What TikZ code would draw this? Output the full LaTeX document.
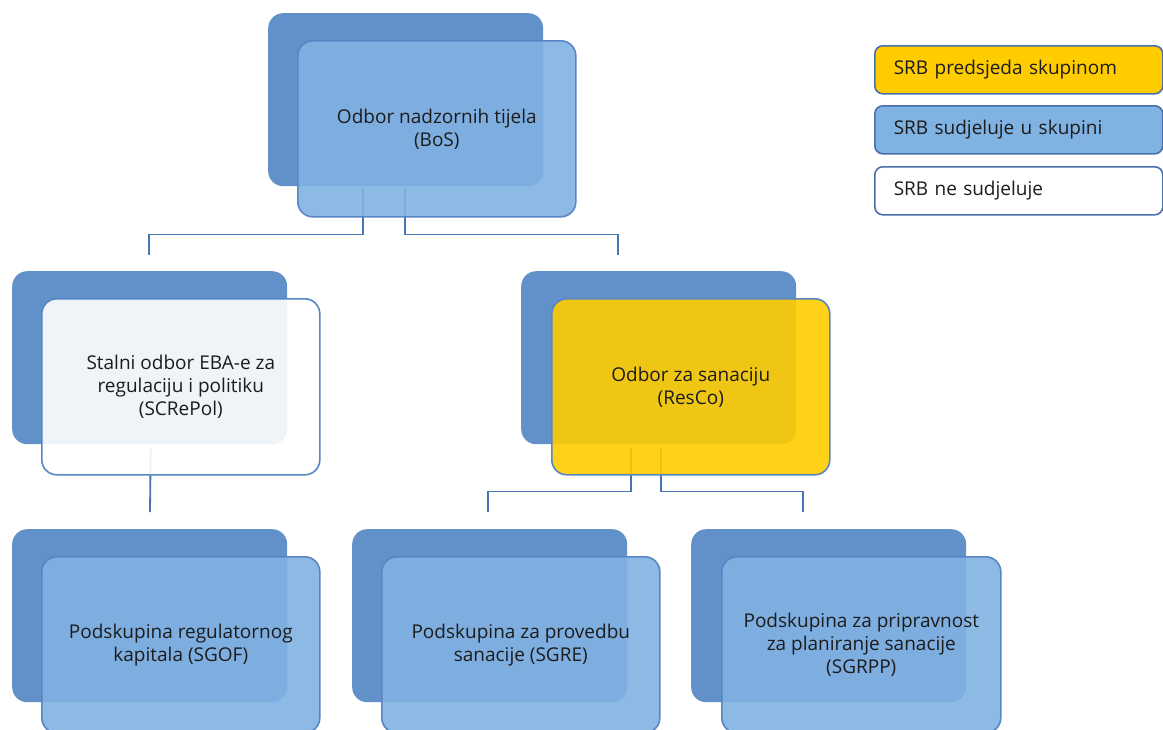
\documentclass[tikz,border=0pt]{standalone}
\usepackage{fontspec}
\setmainfont{Open Sans}
\usetikzlibrary{positioning}
\definecolor{backblue}{RGB}{98,145,201}
\definecolor{frontblue}{RGB}{128,178,226}
\definecolor{chairgold}{RGB}{255,204,0}
\definecolor{edgeblue}{RGB}{88,134,196}
\definecolor{legendedge}{RGB}{72,112,172}
\definecolor{lineblue}{RGB}{74,117,181}
\definecolor{inktext}{RGB}{28,28,28}
\tikzset{
backbox/.style={ % Darker card lying behind each group
anchor=north west,
fill=backblue,
rounded corners=15pt,
inner sep=0pt,
minimum width=275pt,
minimum height=173pt},
frontbox/.style={ % Card in front, carries the name
anchor=north west,
draw=edgeblue,
line width=1.6pt,
fill=frontblue,
fill opacity=0.9,
text opacity=1,
text=inktext,
rounded corners=15pt,
minimum width=278pt,
minimum height=176pt,
align=center,
font=\fontsize{19}{23}\selectfont},
legendbox/.style={ % Key on the right
anchor=north west,
draw=legendedge,
line width=1.6pt,
rounded corners=8pt,
minimum height=48pt,
text width=250pt,
inner xsep=19pt,
align=left,
text=inktext,
font=\fontsize{19}{23}\selectfont},
link/.style={ % Connectors between the levels
draw=lineblue,
line width=1.8pt}}
\begin{document}
\begin{tikzpicture}[x=1pt, y=-1pt]
\useasboundingbox (0,0) rectangle (1163,729);
% back cards
\node[backbox] (bosback) at (268,13) {};
\node[backbox] (screpolback) at (12,271) {};
\node[backbox] (rescoback) at (521,271) {};
\node[backbox] (sgofback) at (12,529) {};
\node[backbox] (sgreback) at (352,529) {};
\node[backbox] (sgrppback) at (691,529) {};
% free ends of the connectors
\coordinate (screpoltop) at (149,255);
\coordinate (rescotop) at (618,255);
\coordinate (sgoftop) at (150,512);
\coordinate (sgretop) at (488,512);
\coordinate (sgrpptop) at (803,512);
% connectors
\draw[link] ([xshift=-43pt, yshift=-3pt]bosback.south) -- ++(0,45) -| (screpoltop);
\draw[link] ([xshift=-1pt, yshift=-3pt]bosback.south) -- ++(0,45) -| (rescotop);
\draw[link] ([xshift=1pt, yshift=-4pt]screpolback.south) -- (sgoftop);
\draw[link] ([xshift=-28pt, yshift=-4pt]rescoback.south) -- ++(0,43) -| (sgretop);
\draw[link] ([xshift=2pt, yshift=-4pt]rescoback.south) -- ++(0,43) -| (sgrpptop);
% front cards
\node[frontbox] (bos) at (297,40) {Odbor nadzornih tijela\\(BoS)};
\node[frontbox, fill=white] (screpol) at (41,298) {Stalni odbor EBA-e za\\regulaciju i politiku\\(SCRePol)};
\node[frontbox, fill=chairgold] (resco) at (551,298) {Odbor za sanaciju\\(ResCo)};
\node[frontbox] (sgof) at (41,556) {Podskupina regulatornog\\kapitala (SGOF)};
\node[frontbox] (sgre) at (381,556) {Podskupina za provedbu\\sanacije (SGRE)};
\node[frontbox, minimum width=279pt] (sgrpp) at (721,556) {Podskupina za pripravnost\\za planiranje sanacije\\(SGRPP)};
% key
\node[legendbox, fill=chairgold] (keychair) at (874,45) {SRB predsjeda skupinom};
\node[legendbox, fill=frontblue] (keytakes) at (874,105) {SRB sudjeluje u skupini};
\node[legendbox, fill=white] (keynone) at (874,166) {SRB ne sudjeluje};
\end{tikzpicture}
\end{document}
